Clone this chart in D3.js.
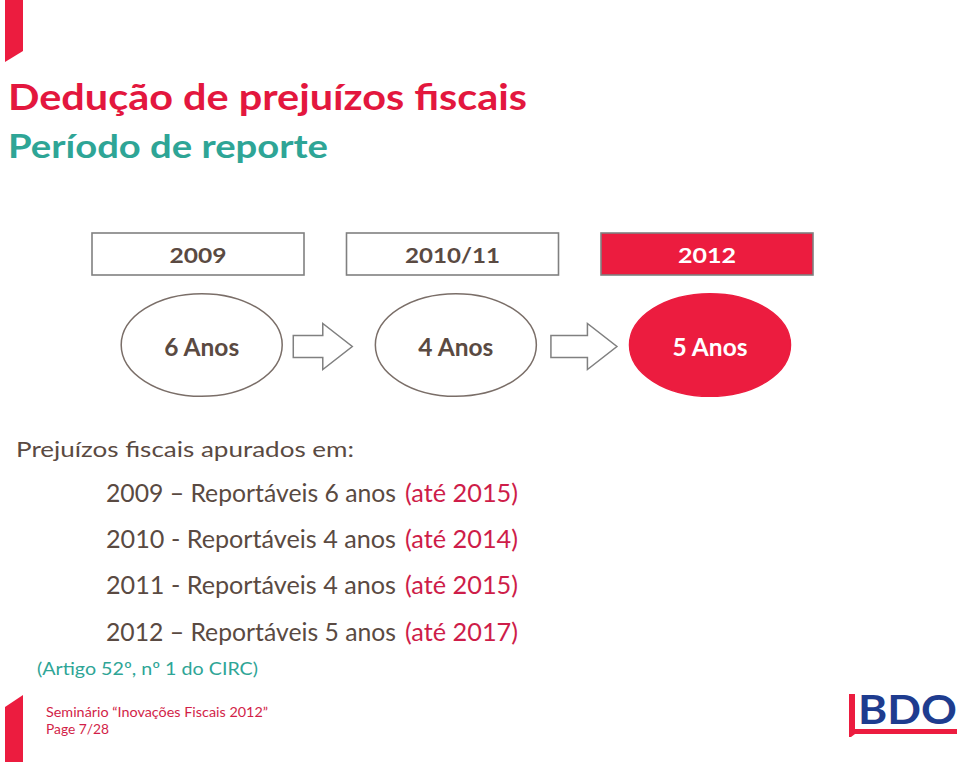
<!DOCTYPE html>
<html>
<head>
<meta charset="utf-8">
<script src="https://cdn.jsdelivr.net/npm/d3@7"></script>
<style>
  html, body { margin: 0; padding: 0; background: #ffffff; }
  svg { display: block; }
  text { font-family: Lato, "Open Sans", "DejaVu Sans", sans-serif; }
</style>
</head>
<body>
<script>
// ---------- data ----------
const titleText = "Dedução de prejuízos fiscais";
const subtitleText = "Período de reporte";
const periods = ["2009", "2010/11", "2012"];
const carryYears = [6, 4, 5];
const highlightPeriod = "2012";
const introText = "Prejuízos fiscais apurados em:";
const lossYears = ["2009", "2010", "2011", "2012"];
const lossSeparators = ["–", "-", "-", "–"];
const lossCarry = [6, 4, 4, 5];
const lossUntil = [2015, 2014, 2015, 2017];
const noteText = "(Artigo 52º, nº 1 do CIRC)";
const footerLines = ["Seminário “Inovações Fiscais 2012”", "Page 7/28"];
const logoText = "BDO";

// ---------- colours ----------
const RED = "#E3173E", BOX_RED = "#EC1C3F", LIST_RED = "#CE1D49", FOOT_RED = "#D21E48";
const TEAL = "#2EA596", BROWN = "#5A4A42", GRAY = "#808080", ELL = "#7A6E68", BLUE = "#1E3C8F";

const W = 960, H = 762;
const svg = d3.select("body").append("svg").attr("width", W).attr("height", H);

function fit(sel, w) { return sel.attr("textLength", w).attr("lengthAdjust", "spacingAndGlyphs"); }

// ---------- decorative corner bars ----------
svg.append("polygon").attr("points", "5,0 23,0 23,51 5,62").attr("fill", BOX_RED);
svg.append("polygon").attr("points", "5,707 23,695 23,762 5,762").attr("fill", BOX_RED);

// ---------- titles ----------
fit(svg.append("text").attr("x", 8).attr("y", 110).attr("font-size", 37).attr("font-weight", 700)
  .attr("fill", RED).text(titleText), 519);
fit(svg.append("text").attr("x", 8).attr("y", 158).attr("font-size", 32).attr("font-weight", 700)
  .attr("fill", TEAL).text(subtitleText), 320);

// ---------- period boxes ----------
const xBox = d3.scaleBand().domain(periods).range([92, 813]).paddingInner(0.167).paddingOuter(0);
const boxLabelW = { "2009": 57, "2010/11": 95, "2012": 58 };
const boxes = svg.append("g").selectAll("g").data(periods).join("g");
boxes.append("rect")
  .attr("x", d => xBox(d)).attr("y", 233)
  .attr("width", xBox.bandwidth()).attr("height", 42)
  .attr("fill", d => d === highlightPeriod ? BOX_RED : "#fff")
  .attr("stroke", GRAY).attr("stroke-width", 1.6);
boxes.append("text")
  .attr("x", d => xBox(d) + xBox.bandwidth() / 2).attr("y", 262.5)
  .attr("text-anchor", "middle").attr("font-size", 21).attr("font-weight", 700)
  .attr("fill", d => d === highlightPeriod ? "#fff" : BROWN)
  .attr("textLength", d => boxLabelW[d]).attr("lengthAdjust", "spacingAndGlyphs")
  .text(d => d);

// ---------- ellipses ----------
const xEll = d3.scalePoint().domain(periods).range([201.7, 710]);
const ells = svg.append("g").selectAll("g").data(periods).join("g");
ells.append("ellipse")
  .attr("cx", d => xEll(d)).attr("cy", 345)
  .attr("rx", 80.5).attr("ry", 51.3)
  .attr("fill", d => d === highlightPeriod ? BOX_RED : "#fff")
  .attr("stroke", d => d === highlightPeriod ? BOX_RED : ELL).attr("stroke-width", 1.5);
ells.append("text")
  .attr("x", d => xEll(d)).attr("y", 356)
  .attr("text-anchor", "middle").attr("font-size", 24).attr("font-weight", 700)
  .attr("fill", d => d === highlightPeriod ? "#fff" : BROWN)
  .attr("textLength", 75).attr("lengthAdjust", "spacingAndGlyphs")
  .text((d, i) => `${carryYears[i]} Anos`);

// ---------- arrows between ellipses ----------
const arrowPairs = d3.pairs(periods);
const arrowLen = [59, 66];
const arrowCenter = (p, i) => (xEll(p[0]) + xEll(p[1])) / 2 - 6 + i * 7;
svg.append("g").selectAll("path").data(arrowPairs).join("path")
  .attr("d", (p, i) => {
    const c = arrowCenter(p, i), L = arrowLen[i];
    const x0 = c - L / 2, x1 = c + L / 2, xh = x1 - 29.5, cy = 346.5;
    return `M${x0},${cy - 11} L${xh},${cy - 11} L${xh},${cy - 23} L${x1},${cy} L${xh},${cy + 23} L${xh},${cy + 11} L${x0},${cy + 11} Z`;
  })
  .attr("fill", "#fff").attr("stroke", GRAY).attr("stroke-width", 1.5).attr("stroke-linejoin", "miter");

// ---------- list ----------
fit(svg.append("text").attr("x", 16).attr("y", 457).attr("font-size", 22)
  .attr("fill", BROWN).text(introText), 338);

const yRow = d3.scalePoint().domain(lossYears).range([501.5, 640.5]);
const rows = svg.append("g").selectAll("g").data(lossYears).join("g");
rows.append("text")
  .attr("x", 106).attr("y", d => yRow(d)).attr("font-size", 24.5).attr("fill", BROWN)
  .attr("textLength", 290).attr("lengthAdjust", "spacingAndGlyphs")
  .text((d, i) => `${d} ${lossSeparators[i]} Reportáveis ${lossCarry[i]} anos`);
rows.append("text")
  .attr("x", 405).attr("y", d => yRow(d)).attr("font-size", 24.5).attr("fill", LIST_RED)
  .attr("textLength", 113).attr("lengthAdjust", "spacingAndGlyphs")
  .text((d, i) => `(até ${lossUntil[i]})`);

fit(svg.append("text").attr("x", 37).attr("y", 675).attr("font-size", 17.5)
  .attr("fill", TEAL).text(noteText), 221);

// ---------- footer ----------
fit(svg.append("text").attr("x", 46).attr("y", 717).attr("font-size", 13)
  .attr("fill", FOOT_RED).text(footerLines[0]), 222);
fit(svg.append("text").attr("x", 46).attr("y", 734).attr("font-size", 13)
  .attr("fill", FOOT_RED).text(footerLines[1]), 63);

// ---------- logo ----------
svg.append("path")
  .attr("d", "M849,694 L855,694 L855,729 L957,729 L957,734 L855,734 L851,737 L849,737 Z")
  .attr("fill", BOX_RED);
fit(svg.append("text").attr("x", 858).attr("y", 724).attr("font-size", 41).attr("font-weight", 700)
  .attr("fill", BLUE).text(logoText), 99);
</script>
</body>
</html>
